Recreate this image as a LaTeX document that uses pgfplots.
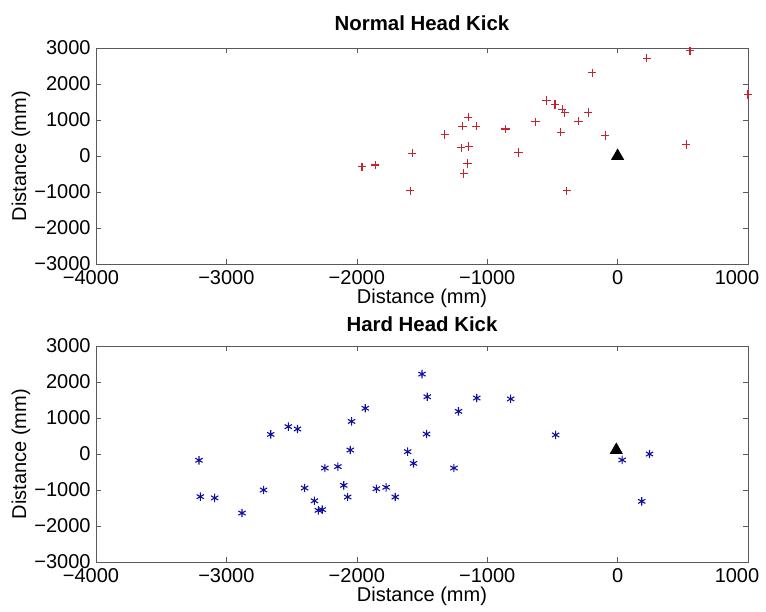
\documentclass[border=0pt]{standalone}
\usepackage{pgfplots}
\pgfplotsset{compat=1.18}
\usepackage{fontspec}
\setmainfont{Liberation Sans}

\definecolor{kickred}{RGB}{200,35,45}
\definecolor{kickblue}{RGB}{15,15,160}

\pgfplotsset{
  kickaxis/.style={
    width=326pt, height=108pt, scale only axis,
    anchor=south west,
    xmin=-4000, xmax=1000, ymin=-3000, ymax=3000,
    xtick={-4000,-3000,...,1000},
    ytick={-3000,-2000,...,3000},
    xticklabels={\kern-5pt −4000, −3000, −2000, −1000, 0, \kern-11pt 1000},
    yticklabels={−3000, −2000, −1000, 0, 1000, 2000, 3000},
    tick align=inside,
    major tick length=2.5pt,
    axis line style={gray!70!black},
    tick style={gray!70!black},
    ticklabel style={font=\fontsize{10}{11}\selectfont, inner sep=1pt},
    xticklabel style={yshift=-2pt},
    yticklabel style={xshift=-1.5pt},
    label style={font=\fontsize{10}{11}\selectfont, inner sep=1pt},
    title style={font=\bfseries\fontsize{10.2}{11}\selectfont, anchor=base, yshift=-6pt},
    xlabel={Distance (mm)},
    ylabel={Distance (mm)},
    xlabel style={at={(axis description cs:0.5,-0.182)}, anchor=base},
    ylabel style={at={(axis description cs:-0.115,0.5)}, anchor=center},
    clip=false,
  }
}

\begin{document}
\begin{tikzpicture}
\path[use as bounding box] (-48pt,-173.5pt) rectangle (335pt,132pt);

\begin{axis}[kickaxis, title={Normal Head Kick}, at={(0,0)},
  title style={at={(axis description cs:0.5,1.083)}}]
\addplot[only marks, mark=+, mark size=2.1pt, color=kickred, mark options={line width=0.55pt}] coordinates {
(-1960,-300) (-1860,-250) (-1575,80) (-1590,-970) (-1325,600)
(-1190,830) (-1145,1080) (-1085,830) (-1200,230) (-1140,260)
(-1150,-210) (-1180,-490) (-860,750) (-760,100) (-630,950)
(-545,1540) (-480,1430) (-425,1300) (-405,1200) (-435,665)
(-390,-970) (-300,970) (-225,1210) (-195,2310) (-95,570)
(225,2720) (555,2920) (525,315) (1000,1710)
};
\addplot[only marks, mark=triangle*, mark size=3.4pt, color=black] coordinates {(0,0)};
\end{axis}

\begin{axis}[kickaxis, title={Hard Head Kick}, at={(0,-149pt)},
  title style={at={(axis description cs:0.5,1.069)}}]
\addplot[only marks, mark=asterisk, mark size=2.1pt, color=kickblue, mark options={line width=0.55pt}] coordinates {
(-3210,-175) (-3200,-1185) (-3090,-1220) (-2880,-1640) (-2715,-1000)
(-2660,545) (-2525,760) (-2455,695) (-2400,-945) (-2325,-1300)
(-2295,-1565) (-2265,-1545) (-2245,-390) (-2145,-350) (-2100,-870)
(-2070,-1195) (-2050,110) (-2040,905) (-1935,1270) (-1850,-965)
(-1775,-925) (-1705,-1195) (-1610,65) (-1565,-260) (-1500,2220)
(-1460,1590) (-1465,555) (-1255,-390) (-1220,1185) (-1080,1555)
(-820,1530) (-475,530) (35,-165) (185,-1315) (245,0)
};
\addplot[only marks, mark=triangle*, mark size=3.4pt, color=black] coordinates {(-10,110)};
\end{axis}
\end{tikzpicture}
\end{document}
